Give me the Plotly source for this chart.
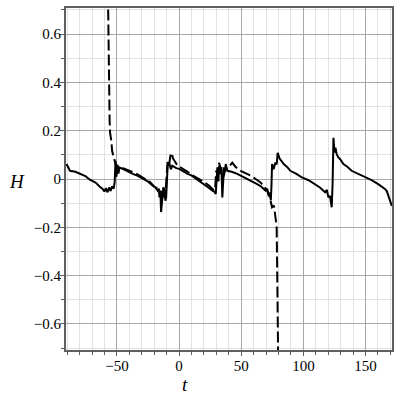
import plotly.graph_objects as go

# solid curve (t, H)
t_solid = [-90.6, -87.8, -83.5, -79.8, -75.4, -71.8, -67.2, -63.8, -61.7, -60.1, -58.9,
           -57.6, -56.3, -55.1, -53.9, -52.6, -51.8, -51.2, -50.4, -49.6, -48.8, -47.9,
           -44.9, -42.5, -39.9, -37.2, -32.8, -29.2, -24.6, -21.2, -19.1, -17.2, -16.3,
           -15.8, -15.0, -14.5, -13.7, -12.7, -11.9, -11.0, -10.4, -9.8, -9.2, -7.8, -6.6,
           -5.5, -2.3, 0.1, 3.8, 6.8, 9.9, 12.2, 15.9, 20.2, 23.5, 26.8, 28.3, 29.5, 30.1,
           30.8, 31.6, 32.2, 33.2, 34.0, 34.8, 35.5, 36.1, 36.8, 37.5, 38.8, 42.3, 46.8,
           50.4, 54.8, 58.5, 62.8, 66.2, 69.5, 70.9, 72.1, 73.0, 73.8, 74.3, 74.8, 76.0,
           77.5, 78.5, 79.3, 80.9, 84.2, 86.9, 89.5, 94.0, 98.8, 104.2, 109.6, 113.3,
           117.5, 118.9, 120.1, 121.4, 122.8, 123.5, 124.2, 125.0, 125.8, 126.8, 128.0,
           129.6, 132.2, 135.6, 138.8, 143.8, 149.5, 154.9, 160.2, 163.0, 165.6, 167.1,
           168.2, 169.6, 170.8, 171.2]
h_solid = [0.062, 0.034, 0.030, 0.023, 0.012, -0.003, -0.015, -0.032, -0.040, -0.052,
           -0.038, -0.055, -0.035, -0.050, -0.030, -0.040, -0.011, 0.075, 0.010, 0.060,
           0.022, 0.048, 0.040, 0.034, 0.030, 0.021, 0.012, 0.000, -0.012, -0.028,
           -0.035, -0.048, -0.040, -0.076, -0.060, -0.137, -0.070, -0.035, -0.041, -0.090,
           -0.076, -0.020, 0.055, 0.063, 0.040, 0.055, 0.045, 0.042, 0.030, 0.021, 0.015,
           0.007, -0.005, -0.021, -0.035, -0.048, -0.052, -0.062, -0.020, 0.048, -0.010,
           0.055, 0.020, 0.050, -0.076, 0.010, 0.048, 0.030, 0.062, 0.034, 0.030, 0.021,
           0.012, 0.000, -0.010, -0.021, -0.032, -0.048, -0.040, -0.069, -0.055, -0.089,
           -0.030, 0.062, 0.040, 0.068, 0.060, 0.108, 0.085, 0.062, 0.050, 0.034, 0.022,
           0.007, -0.005, -0.021, -0.035, -0.055, -0.045, -0.076, -0.070, -0.117, -0.020,
           0.171, 0.110, 0.130, 0.103, 0.090, 0.082, 0.062, 0.050, 0.034, 0.022, 0.007,
           -0.005, -0.021, -0.030, -0.041, -0.050, -0.069, -0.085, -0.110, -0.112]

# dashed curve (t, H); leaves the frame at both ends
t_dashed = [-57.7, -57.2, -56.5, -55.9, -55.5, -54.5, -53.9, -52.6, -51.4, -50.2, -49.4,
            -45.9, -43.8, -39.9, -35.8, -31.7, -27.9, -23.6, -19.9, -17.0, -15.8, -14.5,
            -13.5, -12.7, -11.9, -10.6, -9.2, -8.0, -7.0, -5.9, -4.9, -3.8, -1.8, 0.1,
            3.8, 8.1, 11.9, 16.1, 20.0, 24.2, 26.6, 28.2, 29.1, 29.8, 31.2, 32.2, 33.5,
            34.7, 35.8, 37.2, 38.8, 40.8, 42.8, 45.4, 49.5, 53.5, 57.5, 61.6, 65.5, 68.2,
            70.8, 72.9, 74.8, 76.3, 77.5, 78.5, 79.2, 80.1]
h_dashed = [0.95, 0.708, 0.45, 0.24, 0.19, 0.157, 0.116, 0.088, 0.067, 0.050, 0.042,
            0.046, 0.042, 0.035, 0.026, 0.014, 0.001, -0.012, -0.032, -0.040, -0.056,
            -0.050, -0.089, -0.060, -0.069, -0.030, 0.075, 0.060, 0.096, 0.108, 0.085,
            0.075, 0.060, 0.051, 0.040, 0.026, 0.012, 0.001, -0.012, -0.028, -0.038,
            -0.048, -0.030, 0.034, 0.020, 0.067, 0.040, 0.030, 0.010, 0.040, 0.050, 0.055,
            0.068, 0.050, 0.034, 0.025, 0.014, 0.000, -0.014, -0.030, -0.048, -0.075,
            -0.117, -0.110, -0.158, -0.196, -0.50, -0.95]

x_ticks = [-50, 0, 50, 100, 150]
y_ticks = [-0.6, -0.4, -0.2, 0, 0.2, 0.4, 0.6]

SERIF = "Liberation Serif, Times New Roman, serif"
FRAME = "#5f5f5f"
TICKFONT = dict(family=SERIF, size=15, color="black")

fig = go.Figure()
fig.add_trace(go.Scatter(
    x=t_solid, y=h_solid, mode="lines",
    line=dict(color="black", width=2), showlegend=False,
))
fig.add_trace(go.Scatter(
    x=t_dashed, y=h_dashed, mode="lines",
    line=dict(color="black", width=2, dash="11px,4px"), showlegend=False,
))

fig.update_layout(
    width=400, height=400,
    paper_bgcolor="white", plot_bgcolor="white",
    font=dict(family=SERIF, color="black", size=15),
    margin=dict(l=66, r=6, t=6, b=50),
)
fig.update_xaxes(
    range=[-91, 171.3],
    tickvals=x_ticks, ticktext=[f"\u2212{-v}" if v < 0 else str(v) for v in x_ticks],
    showline=True, mirror=True, linecolor=FRAME, linewidth=2,
    ticks="outside", ticklen=4, tickcolor=FRAME, tickwidth=1,
    showgrid=True, gridcolor="#a8a8a8", gridwidth=1,
    minor=dict(dtick=10, tick0=0, showgrid=True, gridcolor="#e2e2e2",
               ticks="outside", ticklen=3, tickcolor=FRAME),
    zeroline=False, tickfont=TICKFONT, ticklabelstandoff=-3,
)
fig.update_yaxes(
    range=[-0.708, 0.708],
    tickvals=y_ticks, ticktext=[f"\u2212{-v:g}" if v < 0 else f"{v:g}" for v in y_ticks],
    showline=True, mirror=True, linecolor=FRAME, linewidth=2,
    ticks="outside", ticklen=4, tickcolor=FRAME, tickwidth=1,
    showgrid=True, gridcolor="#a8a8a8", gridwidth=1,
    minor=dict(dtick=0.1, tick0=0, showgrid=True, gridcolor="#e2e2e2",
               ticks="outside", ticklen=3, tickcolor=FRAME),
    zeroline=False, tickfont=TICKFONT, ticklabelstandoff=-4,
)

fig.add_annotation(
    text="<i>H</i>", xref="paper", yref="paper", x=-0.151, y=0.494,
    xanchor="center", yanchor="middle", showarrow=False,
    font=dict(family=SERIF, size=19),
)
fig.add_annotation(
    text="<i>t</i>", xref="paper", yref="paper", x=0.366, y=-0.102,
    xanchor="center", yanchor="middle", showarrow=False,
    font=dict(family=SERIF, size=19),
)

# drop the browser's default body margin so the figure sits at the page corner
fig.write_html(
    "out.html",
    config={"displayModeBar": False},
    post_script="document.body.style.margin='0';",
)
